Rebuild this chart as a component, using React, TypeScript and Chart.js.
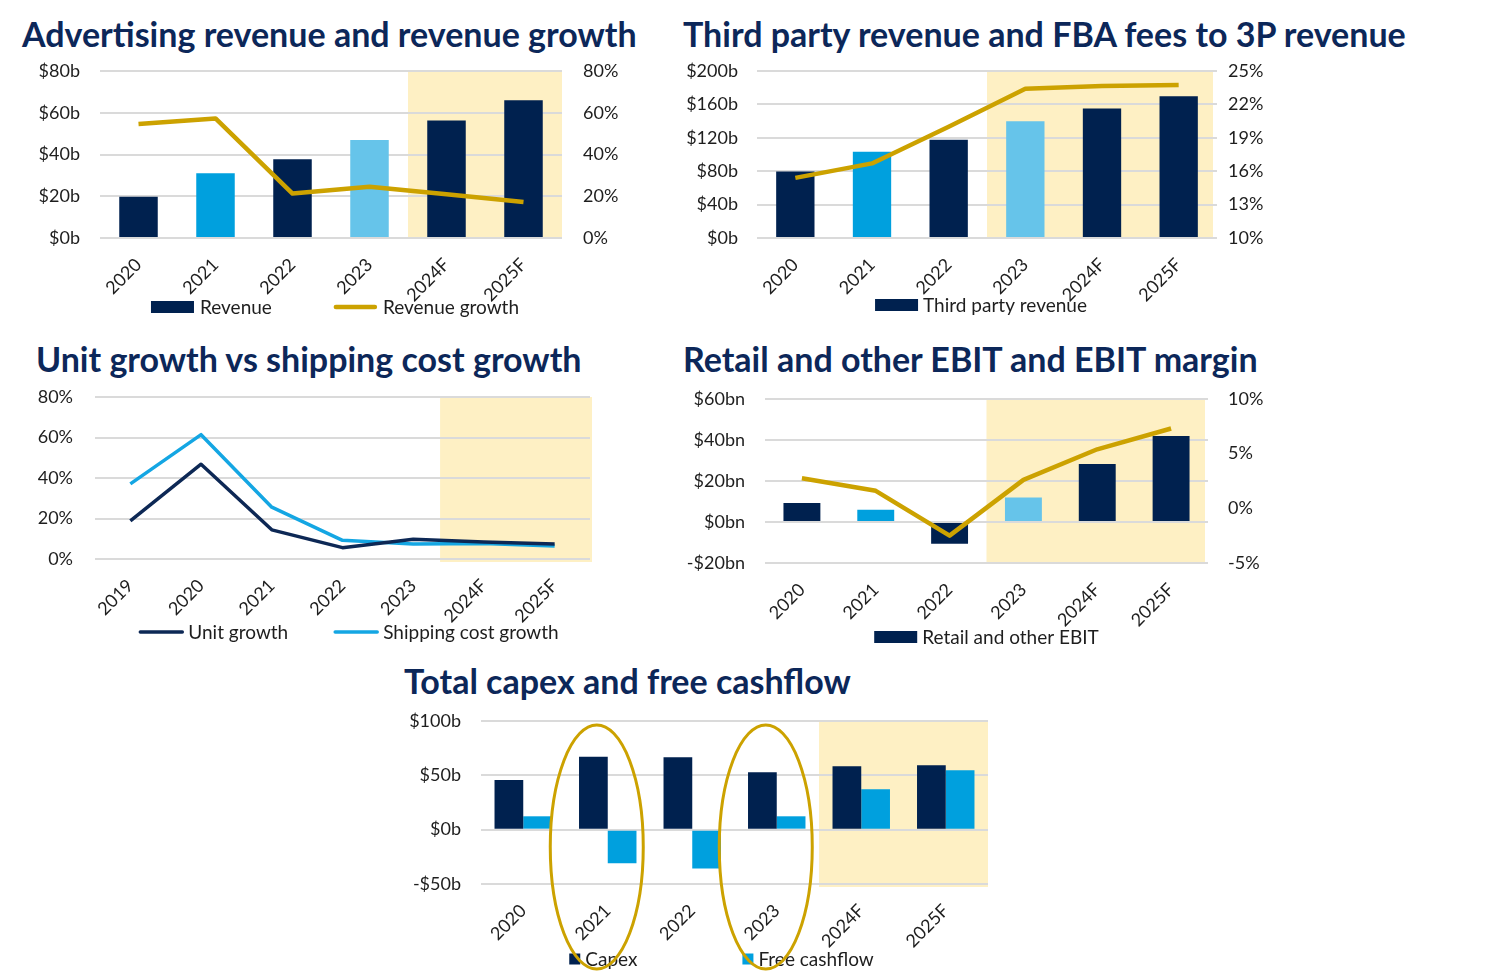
import React, { useEffect, useRef } from 'react';
import { Chart, registerables } from 'chart.js';

Chart.register(...registerables);

// ---------- data ----------
const years = ['2020', '2021', '2022', '2023', '2024F', '2025F'];
const adRevenue = [19.8, 31.0, 37.7, 46.9, 56.3, 66.0];
const adGrowth = [54.6, 57.3, 21.3, 24.5, 21.0, 17.2];

const thirdPartyRevenue = [79.7, 103.4, 117.7, 139.8, 155.0, 169.7];
const fbaFeeShare = [15.4, 16.7, 20.0, 23.4, 23.65, 23.75];

const unitYears = ['2019', '2020', '2021', '2022', '2023', '2024F', '2025F'];
const unitGrowth = [18.8, 46.8, 14.4, 5.6, 9.7, 8.4, 7.4];
const shippingGrowth = [37.1, 61.4, 25.6, 9.2, 7.4, 7.7, 6.4];

const retailEbit = [9.3, 6.0, -10.6, 12.0, 28.3, 41.9];
const ebitMargin = [2.75, 1.6, -2.5, 2.6, 5.4, 7.3];

const capex = [45.8, 67.0, 66.7, 52.9, 58.4, 59.3];
const freeCashflow = [12.3, -31.0, -35.7, 12.3, 37.2, 54.7];
const circledYears = ['2021', '2023'];

const titles = [
  'Advertising revenue and revenue growth',
  'Third party revenue and FBA fees to 3P revenue',
  'Unit growth vs shipping cost growth',
  'Retail and other EBIT and EBIT margin',
  'Total capex and free cashflow',
];

// ---------- styles ----------
const NAVY = '#00214F';
const BLUE = '#00A0DE';
const LIGHT = '#66C4EA';
const GOLD = '#CCA200';
const SHADE = '#FEF0C4';
const GRID = '#DADADA';
const TEXT = '#1E1E1E';
const TITLE = '#0C2759';
const FONT = 'Lato, "Noto Sans", sans-serif';
const CLEAR = 'rgba(0,0,0,0)';
const barColors = [NAVY, BLUE, NAVY, LIGHT, NAVY, NAVY];

// ---------- plugins ----------
const shadePlugin = {
  id: 'forecastShade',
  beforeDraw(chart: any, _a: any, opts: any) {
    if (!opts || opts.from == null) return;
    const { ctx, chartArea } = chart;
    const left = chart.scales.x.getPixelForValue(opts.from);
    const right = chartArea.right + (opts.rightExtra || 0);
    const top = chartArea.top + (opts.topExtra || 0);
    const bottom = chartArea.bottom + (opts.bottomExtra || 0);
    ctx.save();
    ctx.fillStyle = SHADE;
    ctx.fillRect(left, top, right - left, bottom - top);
    ctx.restore();
  },
};

const legendPlugin = {
  id: 'xlegend',
  afterDraw(chart: any, _a: any, opts: any) {
    if (!opts || opts.y == null) return;
    const { ctx, chartArea } = chart;
    const items = chart.data.datasets.filter((d: any) => !d.noLegend);
    ctx.save();
    ctx.font = `${opts.fontSize}px ${FONT}`;
    const widths = items.map((d: any) => opts.boxW + opts.textGap + ctx.measureText(d.label).width);
    const total = widths.reduce((a: number, b: number) => a + b, 0) + opts.gap * (items.length - 1);
    let x = (chartArea.left + chartArea.right) / 2 + (opts.dx || 0) - total / 2;
    const y = opts.y;
    items.forEach((d: any, i: number) => {
      const kind = d.type || chart.config.type;
      if (kind === 'line') {
        ctx.strokeStyle = d.borderColor;
        ctx.lineWidth = d.borderWidth;
        ctx.lineCap = 'round';
        ctx.beginPath();
        ctx.moveTo(x + 2, y);
        ctx.lineTo(x + opts.boxW - 2, y);
        ctx.stroke();
      } else {
        const bg = Array.isArray(d.backgroundColor) ? d.backgroundColor[0] : d.backgroundColor;
        ctx.fillStyle = bg;
        ctx.fillRect(x, y - opts.boxH / 2, opts.boxW, opts.boxH);
      }
      ctx.fillStyle = TEXT;
      ctx.textBaseline = 'middle';
      ctx.textAlign = 'left';
      ctx.fillText(d.label, x + opts.boxW + opts.textGap, y + 1);
      x += widths[i] + opts.gap;
    });
    ctx.restore();
  },
};

const ellipsePlugin = {
  id: 'ellipses',
  afterDraw(chart: any, _a: any, opts: any) {
    if (!opts || !opts.cats) return;
    const { ctx, chartArea } = chart;
    const xs = chart.scales.x;
    const labels = chart.data.labels;
    ctx.save();
    ctx.strokeStyle = GOLD;
    ctx.lineWidth = 3;
    opts.cats.forEach((c: string) => {
      const i = labels.indexOf(c);
      const cx = xs.getPixelForValue(i + opts.shift);
      const top = chartArea.top + opts.topOff;
      const bottom = chartArea.bottom + opts.bottomOff;
      ctx.beginPath();
      ctx.ellipse(cx, (top + bottom) / 2, opts.rx, (bottom - top) / 2, 0, 0, Math.PI * 2);
      ctx.stroke();
    });
    ctx.restore();
  },
};

// ---------- helpers ----------
const tickFont = { family: FONT, size: 18 };
const xFont = { family: FONT, size: 18 };

function xAxis(height: number, extra: any = {}) {
  return {
    grid: { display: false },
    border: { display: false },
    ticks: { font: xFont, color: TEXT, minRotation: 45, maxRotation: 45, autoSkip: false, padding: 8 },
    afterFit: (s: any) => { s.height = height; },
    ...extra,
  };
}

// label gap is produced by an invisible tick mark so it does not add vertical padding
function leftAxis(min: number, max: number, step: number, fmt: (v: number) => string, width: number, pad: number) {
  return {
    position: 'left',
    min, max,
    ticks: { stepSize: step, callback: (v: any) => fmt(Number(v)), padding: 0, font: tickFont, color: TEXT },
    grid: { color: GRID, lineWidth: 2, drawTicks: true, tickLength: pad, tickColor: CLEAR },
    border: { display: false },
    afterFit: (s: any) => { s.width = width; },
  };
}

function rightAxis(min: number, max: number, step: number, fmt: (v: number) => string, width: number, pad: number) {
  return {
    position: 'right',
    min, max,
    ticks: { stepSize: step, callback: (v: any) => fmt(Number(v)), padding: 0, font: tickFont, color: TEXT },
    grid: { display: true, drawOnChartArea: false, drawTicks: true, tickLength: pad, tickColor: CLEAR, color: CLEAR },
    border: { display: false },
    afterFit: (s: any) => { s.width = width; },
  };
}

const dollarB = (v: number) => (v < 0 ? `-$${-v}b` : `$${v}b`);
const dollarBn = (v: number) => (v < 0 ? `-$${-v}bn` : `$${v}bn`);
const pct = (v: number) => `${v}%`;

function baseOptions(extra: any) {
  return {
    responsive: false,
    animation: false,
    maintainAspectRatio: false,
    plugins: { legend: { display: false }, tooltip: { enabled: false }, ...extra.plugins },
    layout: extra.layout,
    scales: extra.scales,
  };
}

// ---------- configs ----------
const adConfig = () => ({
  type: 'bar',
  data: {
    labels: years,
    datasets: [
      { type: 'bar', label: 'Revenue', data: adRevenue, backgroundColor: barColors, categoryPercentage: 0.5, barPercentage: 1, order: 2, yAxisID: 'y' },
      { type: 'line', label: 'Revenue growth', data: adGrowth, borderColor: GOLD, borderWidth: 4.5, pointRadius: 0, tension: 0, borderJoinStyle: 'round', order: 1, yAxisID: 'y1' },
    ],
  },
  options: baseOptions({
    layout: { padding: { top: 21, left: 0, right: 0, bottom: 0 } },
    scales: {
      x: xAxis(92),
      y: leftAxis(0, 80, 20, dollarB, 100, 20),
      y1: rightAxis(0, 80, 20, pct, 98, 21),
    },
    plugins: {
      forecastShade: { from: 3.5, topExtra: -1 },
      xlegend: { y: 257, fontSize: 19, boxW: 43, boxH: 12, textGap: 6, gap: 62, dx: 4 },
    },
  }),
  plugins: [shadePlugin, legendPlugin],
});

const tpConfig = () => ({
  type: 'bar',
  data: {
    labels: years,
    datasets: [
      { type: 'bar', label: 'Third party revenue', data: thirdPartyRevenue, backgroundColor: barColors, categoryPercentage: 0.5, barPercentage: 1, order: 2, yAxisID: 'y' },
      { type: 'line', label: 'FBA fees to 3P revenue', noLegend: true, data: fbaFeeShare, borderColor: GOLD, borderWidth: 4.5, pointRadius: 0, tension: 0, borderJoinStyle: 'round', order: 1, yAxisID: 'y1' },
    ],
  },
  options: baseOptions({
    layout: { padding: { top: 21, left: 0, right: 0, bottom: 0 } },
    scales: {
      x: xAxis(92),
      y: leftAxis(0, 200, 40, dollarB, 87, 19),
      y1: rightAxis(10, 25, 3, pct, 73, 11),
    },
    plugins: {
      forecastShade: { from: 2.5, rightExtra: -4, topExtra: -1 },
      xlegend: { y: 255, fontSize: 19, boxW: 43, boxH: 12, textGap: 5, gap: 60, dx: -6 },
    },
  }),
  plugins: [shadePlugin, legendPlugin],
});

const unitConfig = () => ({
  type: 'line',
  data: {
    labels: unitYears,
    datasets: [
      { label: 'Unit growth', data: unitGrowth, borderColor: '#0D2855', borderWidth: 3.5, pointRadius: 0, tension: 0, borderJoinStyle: 'round' },
      { label: 'Shipping cost growth', data: shippingGrowth, borderColor: '#14A6E3', borderWidth: 3.5, pointRadius: 0, tension: 0, borderJoinStyle: 'round' },
    ],
  },
  options: baseOptions({
    layout: { padding: { top: 17, left: 0, right: 30, bottom: 0 } },
    scales: {
      x: xAxis(91, { offset: true }),
      y: leftAxis(0, 80, 20, pct, 75, 22),
    },
    plugins: {
      forecastShade: { from: 4.38, rightExtra: 2, bottomExtra: 3 },
      xlegend: { y: 252, fontSize: 19, boxW: 46, boxH: 12, textGap: 4, gap: 45, dx: 6 },
    },
  }),
  plugins: [shadePlugin, legendPlugin],
});

const retailConfig = () => ({
  type: 'bar',
  data: {
    labels: years,
    datasets: [
      { type: 'bar', label: 'Retail and other EBIT', data: retailEbit, backgroundColor: barColors, categoryPercentage: 0.5, barPercentage: 1, order: 2, yAxisID: 'y' },
      { type: 'line', label: 'EBIT margin', noLegend: true, data: ebitMargin, borderColor: GOLD, borderWidth: 4.5, pointRadius: 0, tension: 0, borderJoinStyle: 'round', order: 1, yAxisID: 'y1' },
    ],
  },
  options: baseOptions({
    layout: { padding: { top: 19, left: 0, right: 0, bottom: 0 } },
    scales: {
      x: xAxis(87),
      y: leftAxis(-20, 60, 20, dollarBn, 95, 20),
      y1: rightAxis(-5, 10, 5, pct, 82, 20),
    },
    plugins: {
      forecastShade: { from: 2.5, rightExtra: -3 },
      xlegend: { y: 257, fontSize: 19, boxW: 43, boxH: 12, textGap: 5, gap: 60, dx: 0 },
    },
  }),
  plugins: [shadePlugin, legendPlugin],
});

const capexConfig = () => ({
  type: 'bar',
  data: {
    labels: years,
    datasets: [
      { label: 'Capex', data: capex, backgroundColor: NAVY, categoryPercentage: 0.68, barPercentage: 1 },
      { label: 'Free cashflow', data: freeCashflow, backgroundColor: BLUE, categoryPercentage: 0.68, barPercentage: 1 },
    ],
  },
  options: baseOptions({
    layout: { padding: { top: 21, left: 0, right: 22, bottom: 0 } },
    scales: {
      x: xAxis(91),
      y: leftAxis(-50, 100, 50, dollarB, 91, 20),
    },
    plugins: {
      forecastShade: { from: 3.5, bottomExtra: 3 },
      xlegend: { y: 259, fontSize: 19, boxW: 11, boxH: 11, textGap: 5, gap: 105, dx: -13 },
      ellipses: { cats: circledYears, shift: -0.13, rx: 46.5, topOff: 4, bottomOff: 85 },
    },
  }),
  plugins: [shadePlugin, legendPlugin, ellipsePlugin],
});

// ---------- components ----------
function ChartBox({ make, left, top, width, height }: any) {
  const ref = useRef<HTMLCanvasElement | null>(null);
  useEffect(() => {
    const chart = new Chart(ref.current as any, make());
    return () => chart.destroy();
  }, []);
  return (
    <canvas
      ref={ref}
      width={width}
      height={height}
      style={{ position: 'absolute', left, top, width, height }}
    />
  );
}

function Title({ text, left, top }: any) {
  return (
    <div
      style={{
        position: 'absolute', left, top, font: `bold 34px ${FONT}`, color: TITLE,
        lineHeight: '38px', whiteSpace: 'nowrap',
      }}
    >
      {text}
    </div>
  );
}

export default function App() {
  return (
    <div style={{ position: 'fixed', left: 0, top: 0, width: 1489, height: 975, background: '#fff', overflow: 'hidden' }}>
      <Title text={titles[0]} left={22} top={15} />
      <Title text={titles[1]} left={683} top={15} />
      <Title text={titles[2]} left={36} top={340} />
      <Title text={titles[3]} left={683} top={340} />
      <Title text={titles[4]} left={404} top={662} />
      <ChartBox make={adConfig} left={0} top={50} width={660} height={280} />
      <ChartBox make={tpConfig} left={670} top={50} width={620} height={280} />
      <ChartBox make={unitConfig} left={20} top={380} width={600} height={270} />
      <ChartBox make={retailConfig} left={670} top={380} width={620} height={270} />
      <ChartBox make={capexConfig} left={390} top={700} width={620} height={275} />
    </div>
  );
}
